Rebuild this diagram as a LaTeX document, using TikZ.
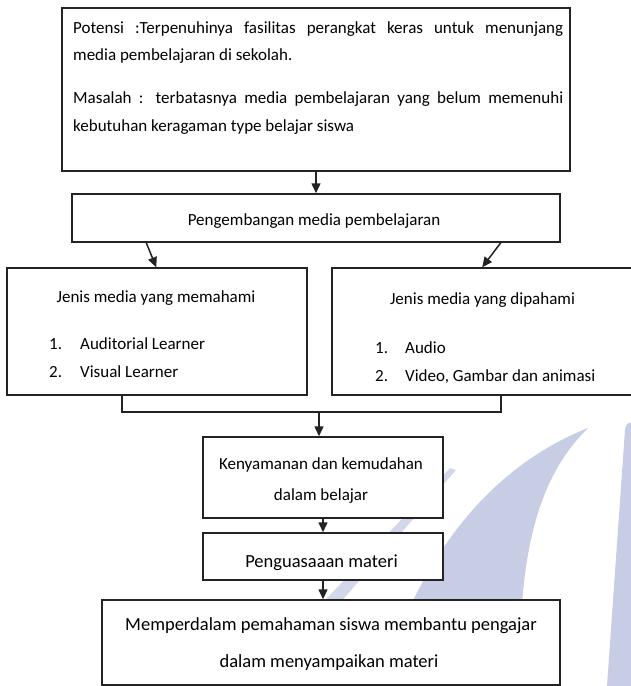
\documentclass[tikz,border=0pt]{standalone}
\usepackage{fontspec}
\setmainfont{Carlito}
\usetikzlibrary{arrows.meta}
\definecolor{wm}{RGB}{199,205,228}
\definecolor{ln}{RGB}{35,35,35}
\begin{document}
\begin{tikzpicture}[x=1pt,y=-1pt,
  box/.style={draw=ln, line width=1.5pt, fill=white, inner sep=0pt},
  conn/.style={draw=ln, line width=1.5pt},
  arr/.style={draw=ln, line width=1.5pt, -{Triangle[length=10pt,width=9pt]}},
  txt/.style={inner sep=0pt, anchor=base, text=black, font=\fontsize{17}{20}\selectfont},
  txtl/.style={txt, anchor=base west},
  big/.style={font=\fontsize{18.5}{22}\selectfont}]
\useasboundingbox (0,0) rectangle (630,686);
\fill[white] (0,0) rectangle (630,686);
% watermark
\fill[wm] (588,428) .. controls (520,455) and (430,520) .. (380,686) -- (520,686) .. controls (518,560) and (535,480) .. (588,428) -- cycle;
\fill[wm!80!white] (450,468) -- (456,470) -- (332,612) -- (314,612) -- cycle;
\fill[wm] (625,430) .. controls (626,421) and (633,420) .. (633,428) -- (632,686) -- (607,686) -- cycle;
% boxes
\node[box, minimum width=508pt, minimum height=163pt] (top) at (316,89.5) {};
\node[box, minimum width=488pt, minimum height=48pt] (peng) at (316,218) {};
\node[box, minimum width=300pt, minimum height=127pt] (left) at (157,331.5) {};
\node[box, minimum width=300pt, minimum height=127pt] (right) at (482,331.5) {};
\node[box, minimum width=240pt, minimum height=81pt] (keny) at (323,477.5) {};
\node[box, minimum width=240pt, minimum height=47pt] (peng2) at (323,556.5) {};
\node[box, minimum width=458pt, minimum height=85pt] (bot) at (331,642.5) {};
% texts
\node[txtl] (t1) at (73,33) {\makebox[490pt][s]{Potensi :Terpenuhinya fasilitas perangkat keras untuk menunjang}};
\node[txtl] (t2) at (73,60) {media pembelajaran di sekolah.};
\node[txtl] (t3) at (73,103) {\makebox[490pt][s]{Masalah : terbatasnya media pembelajaran yang belum memenuhi}};
\node[txtl] (t4) at (73,131) {kebutuhan keragaman type belajar siswa};
\node[txt] (pt) at (314,225) {Pengembangan media pembelajaran};
\node[txt] (lt) at (156,302) {Jenis media yang memahami};
\node[txtl] (ln1) at (49,349) {1.};
\node[txtl] (li1) at (80,349) {Auditorial Learner};
\node[txtl] (ln2) at (49,377) {2.};
\node[txtl] (li2) at (80,377) {Visual Learner};
\node[txt] (rt) at (482.5,304) {Jenis media yang dipahami};
\node[txtl] (rn1) at (375,353) {1.};
\node[txtl] (ri1) at (405,353) {Audio};
\node[txtl] (rn2) at (375,381) {2.};
\node[txtl] (ri2) at (405,381) {Video, Gambar dan animasi};
\node[txt] (k1) at (321,469) {Kenyamanan dan kemudahan};
\node[txt] (k2) at (321,500) {dalam belajar};
\node[txt, big] (p2) at (321.5,567) {Penguasaaan materi};
\node[txt, big] (b1) at (331,630) {Memperdalam pemahaman siswa membantu pengajar};
\node[txt, big] (b2) at (329,667) {dalam menyampaikan materi};
% connectors
\draw[arr] (top.south) -- (peng.north);
\draw[arr] ([xshift=75pt]peng.south west) -- ([xshift=150pt]left.north west);
\draw[arr] ([xshift=-60pt]peng.south east) -- ([xshift=151pt]right.north west);
\coordinate (bl) at (122,412);
\coordinate (br) at (501,412);
\coordinate (bj) at (319,412);
\draw[conn] (bl |- left.south) -- (bl) -- (br) -- (br |- right.south);
\draw[arr] (bj) -- (bj |- keny.north);
\draw[arr] (keny.south) -- (peng2.north);
\draw[arr] (peng2.south) -- (peng2.south |- bot.north);
\end{tikzpicture}
\end{document}
